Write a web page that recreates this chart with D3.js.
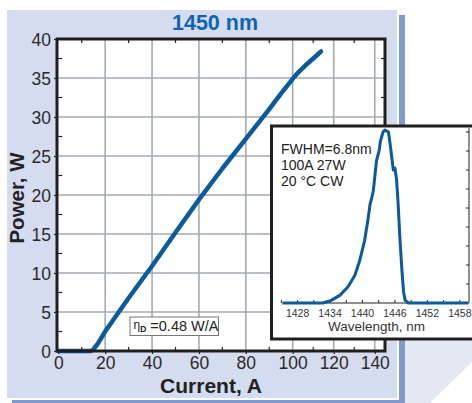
<!DOCTYPE html>
<html>
<head>
<meta charset="utf-8">
<script src="https://cdn.jsdelivr.net/npm/d3@7"></script>
<style>
  body { margin: 0; background: #fff; }
  text { font-family: "Liberation Sans", Arial, sans-serif; }
</style>
</head>
<body>
<script>
// L-I curve, 1450 nm
const current = [0, 10, 14, 15, 17, 20, 30, 40, 50, 60, 70, 80, 90, 95, 100, 103, 107, 110, 113.8];
const power   = [0, 0, 0, 0.2, 1.0, 2.5, 6.8, 10.9, 15.2, 19.4, 23.4, 27.2, 31.0, 33.0, 34.9, 35.8, 36.8, 37.5, 38.4];
const xTicks = [0, 20, 40, 60, 80, 100, 120, 140];
const yTicks = [0, 5, 10, 15, 20, 25, 30, 35, 40];

// inset spectrum
const wavelength = [1425.2, 1428, 1432.7, 1434.2, 1435.8, 1437.3, 1438.6, 1439.5, 1440.4, 1441.0, 1441.4, 1441.7,
  1442.0, 1442.6, 1443.1, 1443.3, 1443.8, 1444.1, 1444.5, 1444.8, 1445.1, 1445.4, 1445.7, 1446.0, 1446.3,
  1446.6, 1446.9, 1447.3, 1447.6, 1447.9, 1448.5, 1452, 1459.5];
const intensity = [0, 0, 0, 0.14, 0.4, 0.84, 1.46, 2.25, 3.3, 4.35, 5.2, 5.5,
  5.9, 7.5, 8.05, 8.5, 9.0, 9.1, 9.05, 9.0, 8.4, 7.7, 7.0, 7.1, 6.5,
  5.2, 3.5, 1.7, 0.58, 0.14, 0, 0, 0];
const wlTicks = [1428, 1434, 1440, 1446, 1452, 1458];

const W = 472, H = 403;
const blue = "#0b5a9e";

const svg = d3.select("body").append("svg")
  .attr("xmlns", "http://www.w3.org/2000/svg")
  .attr("width", W).attr("height", H);

// page decoration
svg.append("rect").attr("x", 7).attr("y", 10).attr("width", 390).attr("height", 388).attr("fill", "#d6dcef");
svg.append("rect").attr("x", 399).attr("y", 15).attr("width", 6).attr("height", 388).attr("fill", "#7f9bcb");
svg.append("rect").attr("x", 12).attr("y", 400).attr("width", 393).attr("height", 3).attr("fill", "#7f9bcb");
svg.append("polygon").attr("points", "405,340 472,340 472,362 430,403 405,403").attr("fill", "#e4e8f3");

// main chart
const x = d3.scaleLinear().domain([0, 100, 145]).range([58.3, 292.7, 385]);
const y = d3.scaleLinear().domain([0, 40]).range([351, 39]);

const plot = svg.append("g");
plot.append("rect")
  .attr("x", x(0) - 1.3).attr("y", y(40))
  .attr("width", x(145) - x(0) + 1.3).attr("height", y(0) - y(40))
  .attr("fill", "#fff");

// grid
plot.selectAll(".gx").data(xTicks.filter(d => d > 0)).join("line")
  .attr("x1", d => x(d)).attr("x2", d => x(d))
  .attr("y1", y(0)).attr("y2", y(40))
  .attr("stroke", "#a3aab3").attr("stroke-width", 1.6);
plot.selectAll(".gy").data(yTicks.filter(d => d > 0 && d < 40)).join("line")
  .attr("x1", x(0)).attr("x2", x(145))
  .attr("y1", d => y(d)).attr("y2", d => y(d))
  .attr("stroke", "#a3aab3").attr("stroke-width", 1.6);

// minor ticks inside the frame
const minorY = d3.range(2.5, 40, 5);
const minorX = d3.range(10, 145, 20);
plot.selectAll(".my").data(minorY).join("line")
  .attr("x1", x(0)).attr("x2", x(0) + 4)
  .attr("y1", d => y(d)).attr("y2", d => y(d))
  .attr("stroke", "#222").attr("stroke-width", 1.2);
plot.selectAll(".myr").data(minorY).join("line")
  .attr("x1", x(145)).attr("x2", x(145) - 4)
  .attr("y1", d => y(d)).attr("y2", d => y(d))
  .attr("stroke", "#222").attr("stroke-width", 1.2);
plot.selectAll(".mx").data(minorX).join("line")
  .attr("x1", d => x(d)).attr("x2", d => x(d))
  .attr("y1", y(40)).attr("y2", y(40) + 4)
  .attr("stroke", "#222").attr("stroke-width", 1.2);
plot.selectAll(".mxb").data(minorX).join("line")
  .attr("x1", d => x(d)).attr("x2", d => x(d))
  .attr("y1", y(0)).attr("y2", y(0) - 4)
  .attr("stroke", "#222").attr("stroke-width", 1.2);

// L-I curve
const liLine = d3.line().x((d, i) => x(current[i])).y(d => y(d));
plot.append("path").datum(power)
  .attr("d", liLine)
  .attr("fill", "none").attr("stroke", blue)
  .attr("stroke-width", 4.5).attr("stroke-linejoin", "round").attr("stroke-linecap", "round");

// frame
plot.append("rect")
  .attr("x", x(0) - 1.3).attr("y", y(40))
  .attr("width", x(145) - x(0) + 1.3).attr("height", y(0) - y(40))
  .attr("fill", "none").attr("stroke", "#1e1e1e").attr("stroke-width", 3);

// axes labels
const xAxis = d3.axisBottom(x).tickValues(xTicks).tickSize(3).tickPadding(3).tickFormat(d3.format("d"));
const gx = svg.append("g").attr("transform", `translate(0,${y(0)})`).call(xAxis);
gx.select(".domain").remove();
gx.selectAll("line").attr("stroke", "#222").attr("stroke-width", 1.2);
gx.selectAll("text").attr("font-size", 17.5).attr("fill", "#2a2a2a");

const yAxis = d3.axisLeft(y).tickValues(yTicks).tickSize(3).tickPadding(3).tickFormat(d3.format("d"));
const gy = svg.append("g").attr("transform", `translate(${x(0) - 1.3},0)`).call(yAxis);
gy.select(".domain").remove();
gy.selectAll("line").attr("stroke", "#222").attr("stroke-width", 1.2);
gy.selectAll("text").attr("font-size", 17.5).attr("fill", "#2a2a2a").attr("dy", "0.36em");

svg.append("text").attr("x", 215).attr("y", 30).attr("text-anchor", "middle")
  .attr("font-size", 21.5).attr("font-weight", "bold").attr("fill", "#0f64b0").text("1450 nm");
svg.append("text").attr("x", 211).attr("y", 393).attr("text-anchor", "middle")
  .attr("font-size", 21).attr("font-weight", "bold").attr("fill", "#222").text("Current, A");
svg.append("text").attr("transform", "translate(24,198) rotate(-90)").attr("text-anchor", "middle")
  .attr("font-size", 20.5).attr("font-weight", "bold").attr("fill", "#222").text("Power, W");

// slope annotation
svg.append("rect").attr("x", 130).attr("y", 317).attr("width", 88.5).attr("height", 18.5)
  .attr("fill", "#fff").attr("stroke", "#777").attr("stroke-width", 1);
const eta = svg.append("text").attr("x", 133.5).attr("y", 331).attr("font-size", 14.5).attr("fill", "#222");
eta.append("tspan").attr("font-size", 12).attr("dy", -2.5).text("η");
eta.append("tspan").attr("font-size", 8.5).attr("font-weight", "bold").attr("dy", 3).text("D");
eta.append("tspan").attr("dy", -0.5).attr("dx", 4).text("=0.48 W/A");

// inset spectrum
const inset = svg.append("g");
inset.append("rect").attr("x", 271.5).attr("y", 126).attr("width", 210).attr("height", 213)
  .attr("fill", "#fff").attr("stroke", "#1e1e1e").attr("stroke-width", 3);

const xs = d3.scaleLinear().domain([1425.3, 1459.7]).range([283, 469]);
const ys = d3.scaleLinear().domain([0, 10]).range([303, 113]);

inset.append("line").attr("x1", xs(1425.3)).attr("x2", xs(1459.7)).attr("y1", ys(0)).attr("y2", ys(0))
  .attr("stroke", "#222").attr("stroke-width", 1.2);
inset.append("line").attr("x1", xs(1459.7)).attr("x2", xs(1459.7)).attr("y1", ys(9.2)).attr("y2", ys(0))
  .attr("stroke", "#222").attr("stroke-width", 1);
inset.selectAll(".tr").data(d3.range(1, 10)).join("line")
  .attr("x1", xs(1459.7)).attr("x2", xs(1459.7) - 3)
  .attr("y1", d => ys(d)).attr("y2", d => ys(d))
  .attr("stroke", "#222").attr("stroke-width", 1);
inset.selectAll(".tb").data(d3.range(1425, 1460, 3)).join("line")
  .attr("x1", d => xs(d)).attr("x2", d => xs(d))
  .attr("y1", ys(0)).attr("y2", ys(0) - 3)
  .attr("stroke", "#222").attr("stroke-width", 1);

const specLine = d3.line().x((d, i) => xs(wavelength[i])).y(d => ys(d));
inset.append("path").datum(intensity)
  .attr("d", specLine)
  .attr("fill", "none").attr("stroke", blue)
  .attr("stroke-width", 3).attr("stroke-linejoin", "round");

inset.selectAll(".wl").data(wlTicks).join("text")
  .attr("x", d => xs(d)).attr("y", 317).attr("text-anchor", "middle")
  .attr("font-size", 10.5).attr("fill", "#333").text(d => d);
inset.append("text").attr("x", 376.5).attr("y", 331).attr("text-anchor", "middle")
  .attr("font-size", 13.5).attr("fill", "#333").text("Wavelength, nm");

const notes = ["FWHM=6.8nm", "100A 27W", "20 °C CW"];
inset.selectAll(".note").data(notes).join("text")
  .attr("x", 281).attr("y", (d, i) => 154 + i * 16).attr("font-size", 14).attr("fill", "#222").text(d => d);
</script>
</body>
</html>
